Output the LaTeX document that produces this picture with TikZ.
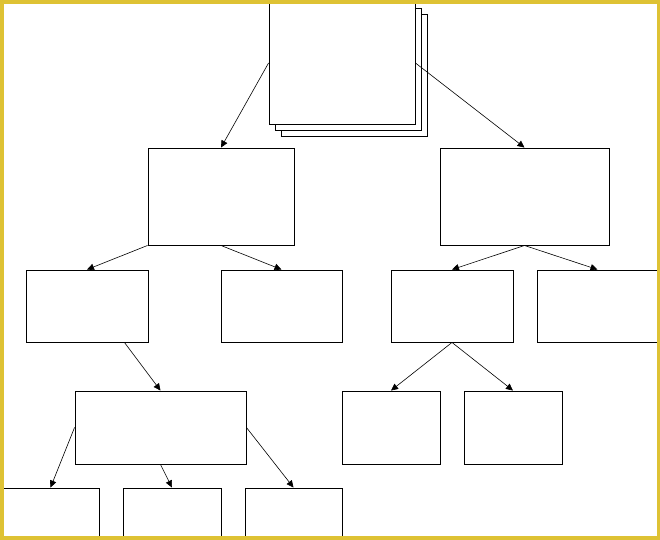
\documentclass[tikz,border=0pt]{standalone}
\usepackage{xcolor}
\usepackage{tikz}
\usetikzlibrary{arrows.meta, calc}

\definecolor{frameyellow}{RGB}{222,194,52}

\begin{document}
\begin{tikzpicture}[
    x=1pt, y=-1pt,
    box/.style={draw, fill=white, line width=0.9pt, inner sep=0pt,
                minimum width=#1},
    box/.default=98pt,
    tallbox/.style={box=#1, minimum height=97pt},
    smallbox/.style={box=#1, minimum height=72pt},
    arrow/.style={-{Triangle[length=7pt, width=6.5pt]}, line width=0.6pt},
]
\clip (0,0) rectangle (660,539);
\fill[white] (0,0) rectangle (660,539);

% Stacked top box
\node[box=146pt, minimum height=122pt] (top3) at (354,75) {};
\node[box=146pt, minimum height=122pt] (top2) at (348,69) {};
\node[box=146pt, minimum height=122pt] (top) at (342,63) {};

% Second level
\node[tallbox=146pt] (left) at (221,196.5) {};
\node[tallbox=169pt] (right) at (524.5,196.5) {};

\draw[arrow] (top.west) -- (left.north);
\draw[arrow] (top.east) -- (right.north);

% Third level
\node[smallbox=122pt] (leftA) at (87,306) {};
\node[smallbox=121pt] (leftB) at (281.5,306) {};
\node[smallbox=122pt] (rightA) at (452,306) {};
\node[smallbox=121pt] (rightB) at (597.5,306) {};

\draw[arrow] (left.south west) -- (leftA.north);
\draw[arrow] (left.south) -- (leftB.north);
\draw[arrow] (right.south) -- (rightA.north);
\draw[arrow] (right.south) -- (rightB.north);

% Fourth level
\node[box=171pt, minimum height=73pt] (mid) at (160.5,427.5) {};
\node[box, minimum height=73pt] (rightAa) at (391,427.5) {};
\node[box, minimum height=73pt] (rightAb) at (513,427.5) {};

\draw[arrow] ([xshift=-24pt]leftA.south east) -- (mid.north);
\draw[arrow] (rightA.south) -- (rightAa.north);
\draw[arrow] (rightA.south) -- (rightAb.north);

% Bottom level
\node[box=97pt, minimum height=73pt] (midA) at (50.5,524.5) {};
\node[box, minimum height=73pt] (midB) at (172,524.5) {};
\node[box=97pt, minimum height=73pt] (midC) at (293.5,524.5) {};

\draw[arrow] (mid.west) -- (midA.north);
\draw[arrow] (mid.south) -- (midB.north);
\draw[arrow] (mid.east) -- (midC.north);

% Frame
\draw[frameyellow, line width=7pt] (0,0) rectangle (660,539);

\end{tikzpicture}
\end{document}
